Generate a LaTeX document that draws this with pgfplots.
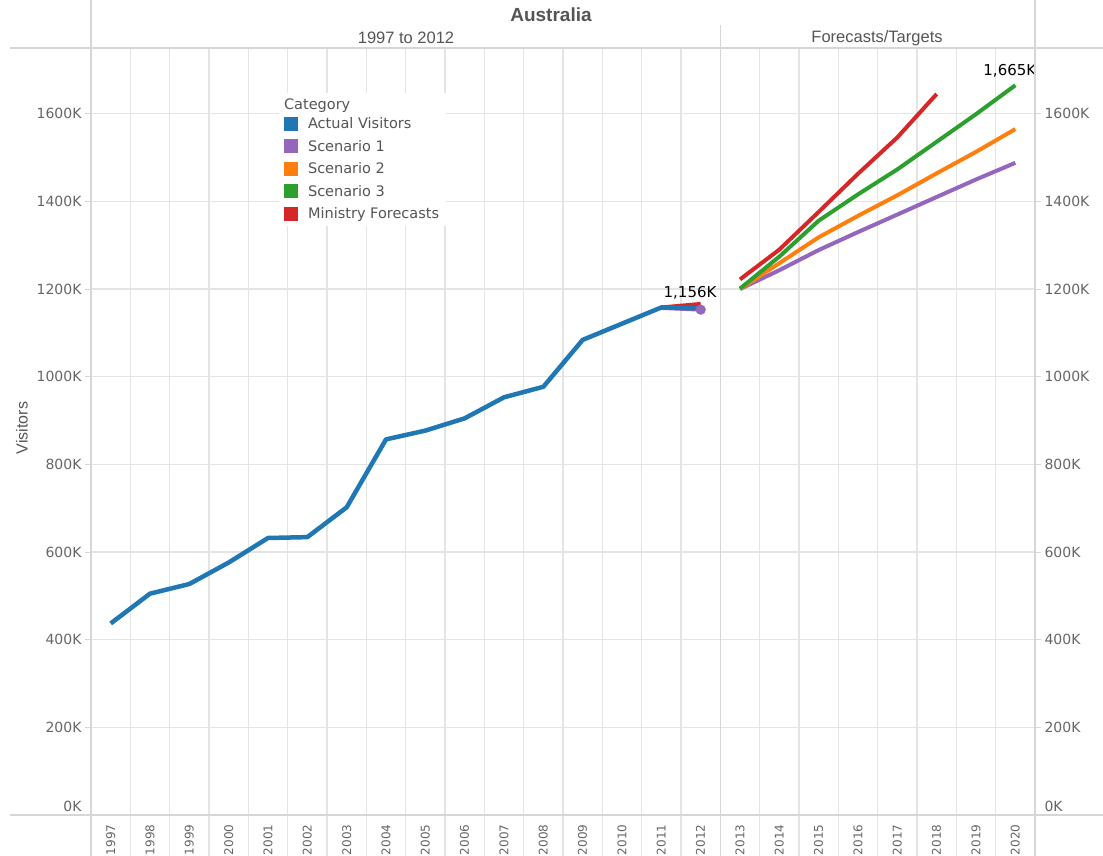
\documentclass[border=0pt]{standalone}
\usepackage{fontspec}
\setmainfont{DejaVu Sans}
\newfontfamily\hdr{Liberation Sans}
\usepackage{pgfplots}
\pgfplotsset{compat=1.18}

\definecolor{tabblue}{RGB}{31,119,180}
\definecolor{tabpurple}{RGB}{148,103,189}
\definecolor{taborange}{RGB}{255,127,14}
\definecolor{tabgreen}{RGB}{44,160,44}
\definecolor{tabred}{RGB}{214,39,40}
\definecolor{gridc}{RGB}{228,228,228}
\definecolor{linec}{RGB}{214,214,214}
\definecolor{labc}{RGB}{102,102,102}
\definecolor{hdrc}{RGB}{85,85,85}

\pgfplotsset{
  common/.style={
    at={(91pt,41pt)}, anchor=south west,
    scale only axis, width=944pt, height=767pt,
    xmin=1996.5, xmax=2020.5, ymin=0, ymax=1750,
    axis line style={draw=none},
    ytick={200,400,...,1600},
    yticklabel={\pgfmathprintnumber{\tick}K},
    extra y ticks={0}, extra y tick labels={0K},
    extra y tick style={yticklabel style={yshift=9pt}},
    /pgf/number format/1000 sep={},
    /pgf/number format/assume math mode=true,
    yticklabel style={font=\fontsize{14}{14}\selectfont, text=labc},
    tick style={draw=linec, line width=1pt},
    major tick length=6pt, tick align=outside,
  },
}

\begin{document}
\begin{tikzpicture}[x=1pt,y=1pt]
\useasboundingbox (0,0) rectangle (1103,856);

% year cell dividers in the label strip
\foreach \i in {1,...,23} \draw[gridc, line width=1.1pt] ({91+\i*39.3333},0) -- ({91+\i*39.3333},41);

\begin{axis}[common,
    ytick pos=left,
    xtick={1997,...,2020},
    minor xtick={1997.5,1998.5,...,2019.5},
    xminorgrids=true, ymajorgrids=true,
    minor grid style={draw=gridc, line width=1.1pt},
    major grid style={draw=gridc, line width=1.1pt},
    xtick style={draw=none}, minor tick length=0pt,
    xticklabel style={font=\fontsize{12}{12}\selectfont, text=labc, rotate=90, anchor=east},
    legend style={at={(0.199,0.9417)}, anchor=north west, draw=none, fill=white,
      font=\fontsize{14.5}{14.5}\selectfont, text=hdrc, row sep=6pt,
      inner xsep=5pt, inner ysep=4pt,
      /tikz/every odd column/.append style={column sep=8pt}},
    legend cell align=left,
    legend image code/.code={\path[#1] (0pt,-7pt) rectangle (14pt,7pt);},
]
% legend
\addlegendimage{empty legend}
\addlegendentry{\hspace*{-24pt}\raisebox{-3.5pt}{Category}}
\addlegendimage{fill=tabblue, draw=none}
\addlegendentry{Actual Visitors}
\addlegendimage{fill=tabpurple, draw=none}
\addlegendentry{Scenario 1}
\addlegendimage{fill=taborange, draw=none}
\addlegendentry{Scenario 2}
\addlegendimage{fill=tabgreen, draw=none}
\addlegendentry{Scenario 3}
\addlegendimage{fill=tabred, draw=none}
\addlegendentry{Ministry Forecasts}

% 1997 to 2012 panel
\addplot[tabpurple, line width=4pt, forget plot, mark=*, mark size=3pt, mark repeat=2, mark phase=2]
  coordinates {(2011,1157) (2012,1153)};
\addplot[tabred, line width=4pt, forget plot] coordinates {(2011,1158) (2012,1166)};
\addplot[tabblue, line width=4.5pt, line join=round, forget plot] coordinates {
  (1997,437) (1998,505) (1999,527) (2000,576) (2001,632) (2002,634)
  (2003,702) (2004,857) (2005,877) (2006,905) (2007,953) (2008,977)
  (2009,1084) (2010,1121) (2011,1158) (2012,1156)
};

% Forecasts/Targets panel
\addplot[tabpurple, line width=4pt, forget plot] coordinates {
  (2013,1200) (2014,1243) (2015,1289) (2016,1330) (2017,1370) (2018,1410) (2019,1450) (2020,1488)
};
\addplot[taborange, line width=4pt, forget plot] coordinates {
  (2013,1200) (2014,1259) (2015,1318) (2016,1367) (2017,1414) (2018,1464) (2019,1513) (2020,1565)
};
\addplot[tabgreen, line width=4pt, forget plot] coordinates {
  (2013,1201) (2014,1274) (2015,1356) (2016,1416) (2017,1473) (2018,1536) (2019,1599) (2020,1665)
};
\addplot[tabred, line width=4pt, forget plot] coordinates {
  (2013,1222) (2014,1290) (2015,1376) (2016,1463) (2017,1546) (2018,1645)
};

\node[font=\fontsize{15}{15}\selectfont] at (axis cs:2011.73,1191) {1,156K};
\node[font=\fontsize{15}{15}\selectfont] at (axis cs:2019.86,1699) {1,665K};
\end{axis}

% right-hand labels
\begin{axis}[common, ytick pos=right, yticklabel pos=right, xtick=\empty]
\end{axis}

% frame and headers
\draw[linec, line width=1.2pt] (91,0) -- (91,856);
\draw[linec, line width=1.2pt] (1035,0) -- (1035,856);
\draw[linec, line width=1.2pt] (720.33,0) -- (720.33,831);
\draw[linec, line width=1.2pt] (10,808) -- (1103,808);
\draw[linec, line width=1.2pt] (10,41) -- (1103,41);

\node[font=\hdr\bfseries\fontsize{19}{19}\selectfont, text=hdrc] at (551,841) {Australia};
\node[font=\hdr\fontsize{16.5}{16.5}\selectfont, text=hdrc] at (406,818) {1997 to 2012};
\node[font=\hdr\fontsize{16.5}{16.5}\selectfont, text=hdrc] at (877,818) {Forecasts/Targets};
\node[font=\hdr\fontsize{16}{16}\selectfont, text=hdrc, rotate=90] at (22,428) {Visitors};
\end{tikzpicture}
\end{document}
